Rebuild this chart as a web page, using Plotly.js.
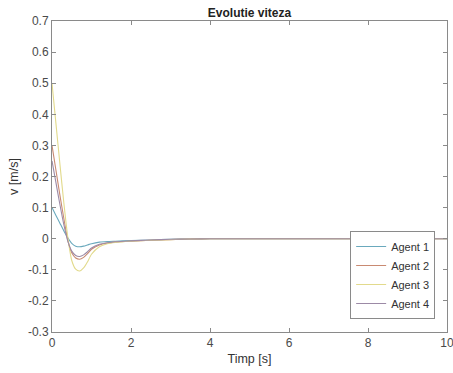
<!DOCTYPE html>
<html>
<head>
<meta charset="utf-8">
<script src="https://cdn.plot.ly/plotly-3.0.1.min.js"></script>
<style>
  html, body { margin: 0; padding: 0; background: #fff; }
  #chart { width: 453px; height: 373px; }
</style>
</head>
<body>
<div id="chart"></div>
<script>
// Time samples [s]
const timp = [0, 0.1, 0.2, 0.3, 0.4, 0.5, 0.6, 0.7, 0.8, 0.9, 1.0, 1.2, 1.4, 1.6, 2.0, 2.5, 3.0, 3.5, 4.0, 5.0, 10.0];

// Velocity of each agent [m/s]
const agent1 = [0.10, 0.075, 0.05, 0.025, 0.003, -0.015, -0.024, -0.026, -0.024, -0.02, -0.016, -0.011, -0.009, -0.008, -0.006, -0.004, -0.002, -0.001, 0, 0, 0];
const agent2 = [0.30, 0.22, 0.14, 0.065, -0.005, -0.045, -0.062, -0.066, -0.06, -0.048, -0.034, -0.02, -0.014, -0.011, -0.008, -0.005, -0.003, -0.001, 0, 0, 0];
const agent3 = [0.50, 0.37, 0.24, 0.115, 0.005, -0.07, -0.098, -0.104, -0.094, -0.074, -0.05, -0.026, -0.016, -0.012, -0.008, -0.005, -0.003, -0.001, 0, 0, 0];
const agent4 = [0.25, 0.18, 0.11, 0.045, -0.008, -0.04, -0.054, -0.057, -0.052, -0.042, -0.03, -0.018, -0.013, -0.01, -0.007, -0.004, -0.002, -0.001, 0, 0, 0];

const names = ['Agent 1', 'Agent 2', 'Agent 3', 'Agent 4'];
const series = [agent1, agent2, agent3, agent4];
const colors = ['#6aa9bd', '#c98a72', '#e2da8c', '#9c8aa6'];

// Axis tick labels
const xTicks = [0, 2, 4, 6, 8, 10];
const xTickText = ['0', '2', '4', '6', '8', '10'];
const yTicks = [-0.3, -0.2, -0.1, 0, 0.1, 0.2, 0.3, 0.4, 0.5, 0.6, 0.7];
const yTickText = ['-0.3', '-0.2', '-0.1', '0', '0.1', '0.2', '0.3', '0.4', '0.5', '0.6', '0.7'];

const traces = series.map((v, i) => ({
  x: timp,
  y: v,
  name: names[i],
  type: 'scatter',
  mode: 'lines',
  line: { color: colors[i], width: 1.1, shape: 'spline', smoothing: 0.6 }
}));

const axisCommon = {
  showgrid: false,
  zeroline: false,
  showline: true,
  linecolor: '#8a8a8a',
  linewidth: 1,
  mirror: 'allticks',
  ticks: 'inside',
  ticklen: 4,
  tickcolor: '#8a8a8a',
  ticklabeloverflow: 'allow',
  automargin: false,
  tickfont: { family: 'Liberation Sans, Arial, sans-serif', size: 12, color: '#4a4a4a' }
};

const layout = {
  width: 453,
  height: 373,
  margin: { l: 52, r: 6, t: 21, b: 41 },
  paper_bgcolor: '#fff',
  plot_bgcolor: '#fff',
  title: {
    text: '<b>Evolutie viteza</b>',
    font: { family: 'Liberation Sans, Arial, sans-serif', size: 12, color: '#222' },
    x: 0.5, xanchor: 'center', xref: 'paper',
    y: 0.965, yanchor: 'middle'
  },
  xaxis: Object.assign({}, axisCommon, {
    range: [0, 10],
    tickvals: xTicks,
    ticktext: xTickText,
    title: { text: 'Timp [s]', font: { family: 'Liberation Sans, Arial, sans-serif', size: 12.5, color: '#333' }, standoff: 4 }
  }),
  yaxis: Object.assign({}, axisCommon, {
    range: [-0.3, 0.7],
    tickvals: yTicks,
    ticktext: yTickText,
    title: { text: 'v [m/s]', font: { family: 'Liberation Sans, Arial, sans-serif', size: 12.5, color: '#333' }, standoff: 6 }
  }),
  showlegend: true,
  legend: {
    x: 0.97, xanchor: 'right',
    y: 0.042, yanchor: 'bottom',
    bgcolor: '#fff',
    bordercolor: '#8a8a8a',
    borderwidth: 1,
    font: { family: 'Liberation Sans, Arial, sans-serif', size: 11, color: '#333' },
    tracegroupgap: 0,
    itemwidth: 30
  }
};

Plotly.newPlot('chart', traces, layout, { displayModeBar: false, staticPlot: true });
</script>
</body>
</html>
